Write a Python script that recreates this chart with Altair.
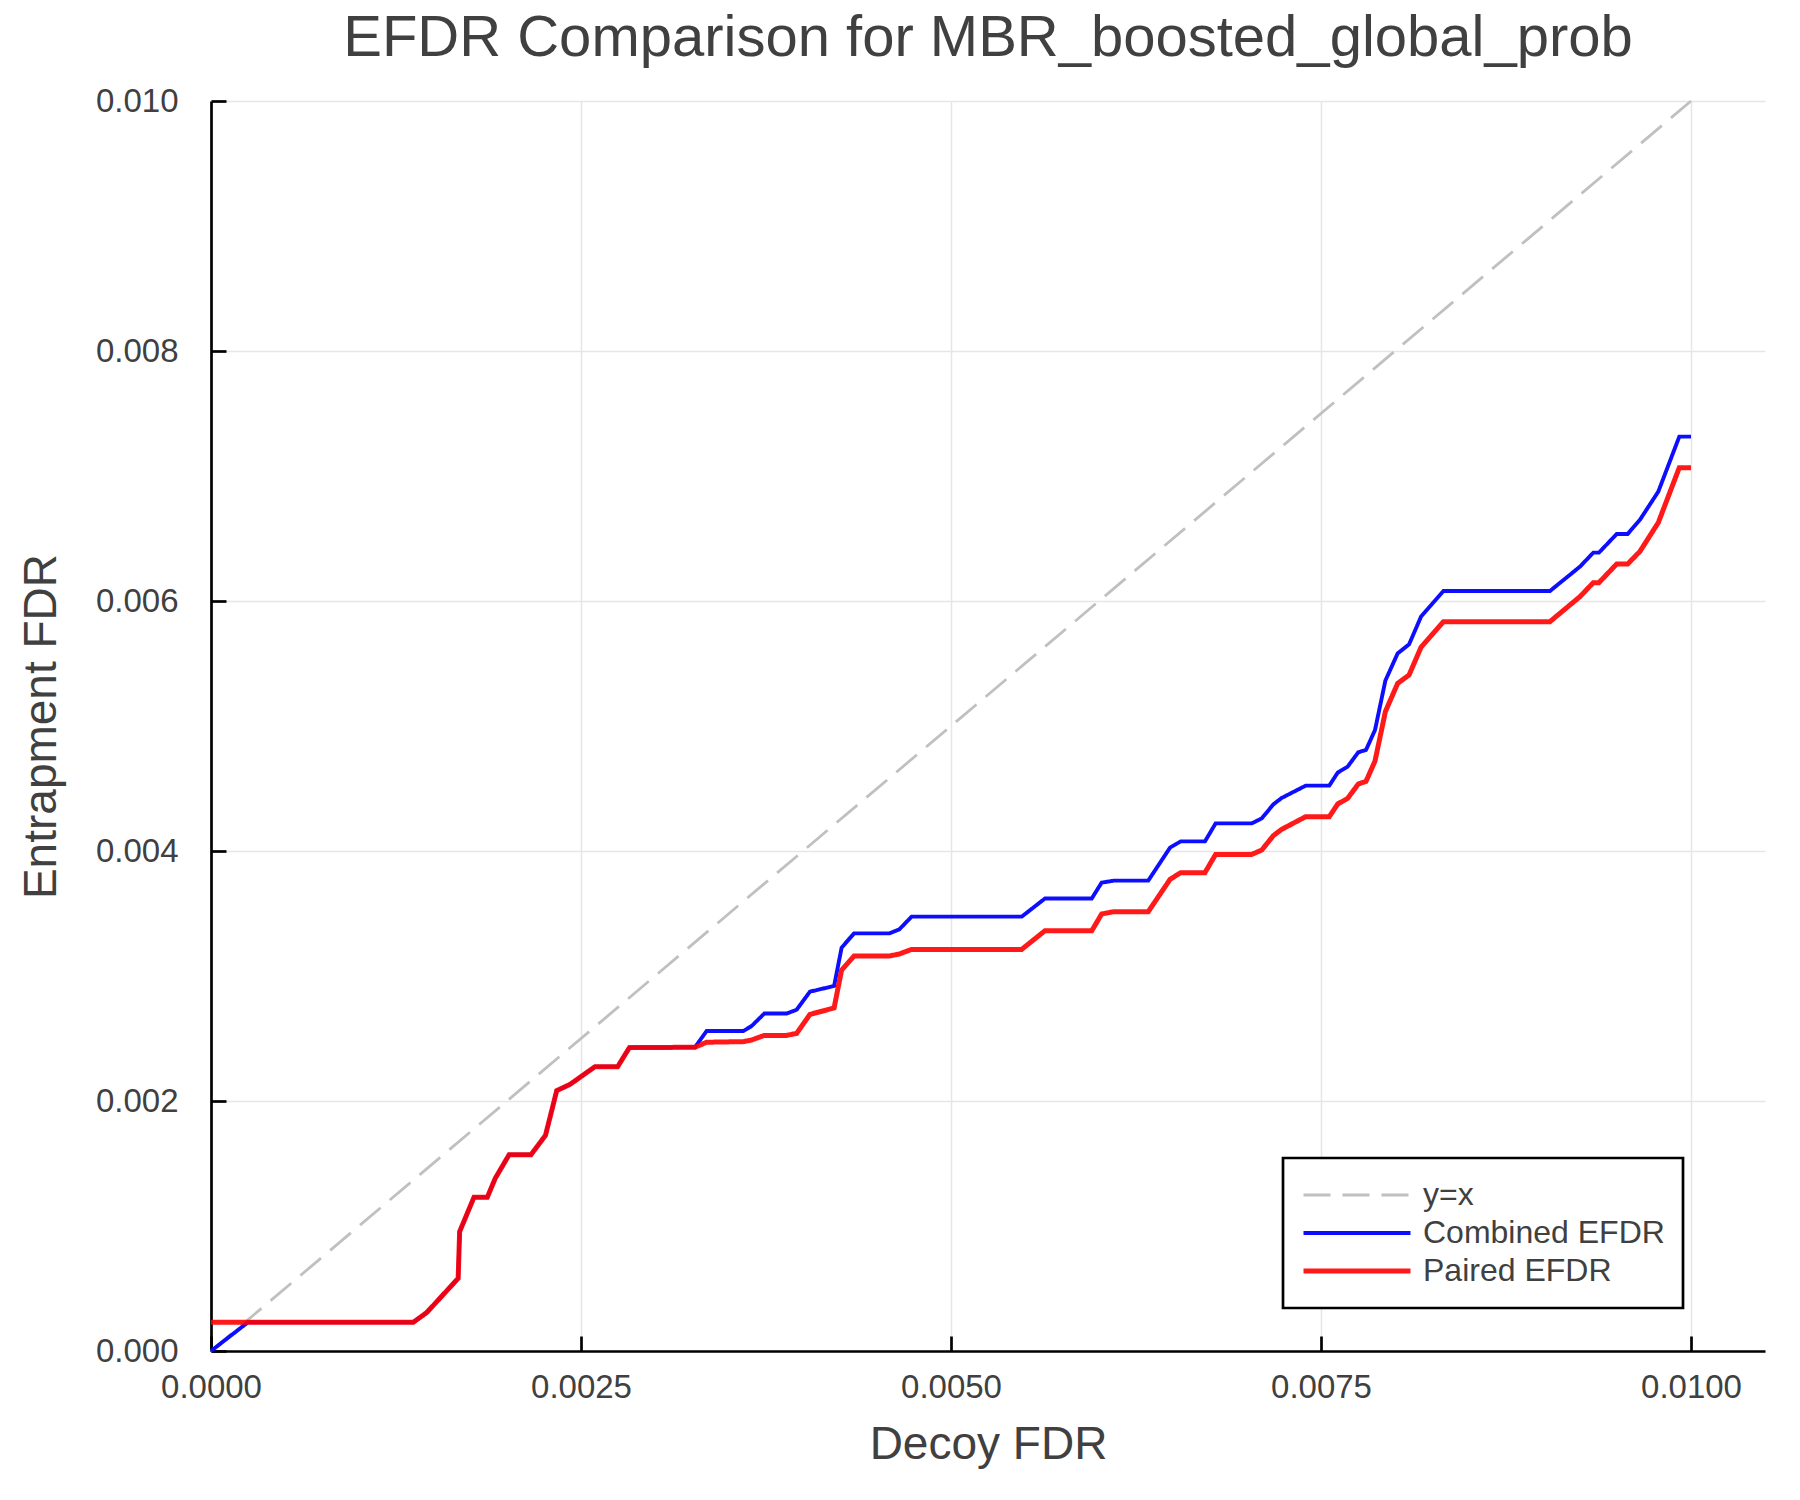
import altair as alt
import pandas as pd

# decoy FDR grid shared by both EFDR curves
decoy_fdr = [
    0.0, 0.00025, 0.001367, 0.001457, 0.00167, 0.00168, 0.001777, 0.001867,
    0.00192, 0.002014, 0.002162, 0.00226, 0.002336, 0.002426, 0.002595, 0.002748,
    0.002827, 0.00327, 0.003349, 0.003597, 0.003653, 0.003739, 0.00389, 0.003957,
    0.004047, 0.00421, 0.004261, 0.004345, 0.004583, 0.004651, 0.004734, 0.005478,
    0.005635, 0.005951, 0.006018, 0.006101, 0.006333, 0.00648, 0.006552, 0.006716,
    0.006788, 0.007032, 0.0071, 0.007178, 0.007234, 0.007397, 0.007556, 0.007613,
    0.00768, 0.007752, 0.007804, 0.007865, 0.007935, 0.008018, 0.008095, 0.008176,
    0.008327, 0.009047, 0.00925, 0.00934, 0.009378, 0.009498, 0.009572, 0.009655,
    0.009779, 0.009921, 0.01,
]
combined_efdr = [
    0.0, 0.00023, 0.00023, 0.000307, 0.000581, 0.000955, 0.00123, 0.00123,
    0.00138, 0.00157, 0.00157, 0.001725, 0.002083, 0.002133, 0.002275, 0.002275,
    0.002427, 0.00243, 0.00256, 0.00256, 0.0026, 0.0027, 0.0027, 0.00273,
    0.002875, 0.00292, 0.003227, 0.003341, 0.003341, 0.003373, 0.003475, 0.003475,
    0.00362, 0.00362, 0.003747, 0.003763, 0.003763, 0.004027, 0.004077, 0.004077,
    0.004221, 0.004221, 0.004261, 0.004373, 0.004424, 0.004523, 0.004523, 0.004627,
    0.004675, 0.00479, 0.004808, 0.004968, 0.005363, 0.005581, 0.005653, 0.005875,
    0.00608, 0.00608, 0.006275, 0.006387, 0.006387, 0.006536, 0.006536, 0.00665,
    0.006875, 0.007315, 0.007315,
]
paired_efdr = [
    0.00023, 0.00023, 0.00023, 0.000307, 0.000581, 0.000955, 0.00123, 0.00123,
    0.00138, 0.00157, 0.00157, 0.001725, 0.002083, 0.002133, 0.002275, 0.002275,
    0.002427, 0.00243, 0.00247, 0.002475, 0.002488, 0.002525, 0.002525, 0.002541,
    0.002693, 0.002744, 0.003048, 0.00316, 0.00316, 0.003176, 0.003213, 0.003213,
    0.003362, 0.003362, 0.003496, 0.003515, 0.003515, 0.003773, 0.003827, 0.003827,
    0.003973, 0.003973, 0.004008, 0.004123, 0.004173, 0.004275, 0.004275, 0.004376,
    0.004421, 0.004536, 0.004557, 0.00472, 0.005115, 0.005341, 0.005408, 0.00563,
    0.005835, 0.005835, 0.006035, 0.006147, 0.006147, 0.006296, 0.006296, 0.006397,
    0.006627, 0.007067, 0.007067,
]
diag_x = [0.0, 0.01]

series_names = ["y=x", "Combined EFDR", "Paired EFDR"]
series_colors = ["#c0c0c0", "#0000ff", "#ff0000"]
series_dash = [[27, 12], [1, 0], [1, 0]]
series_width = [2.8, 5, 5]
series_opacity = [1, 0.9, 0.9]

x_ticks = [0, 0.0025, 0.005, 0.0075, 0.01]
y_ticks = [0, 0.002, 0.004, 0.006, 0.008, 0.01]

diag_df = pd.DataFrame({"decoy": diag_x, "efdr": diag_x, "series": "y=x"})
comb_df = pd.DataFrame({"decoy": decoy_fdr, "efdr": combined_efdr, "series": "Combined EFDR"})
pair_df = pd.DataFrame({"decoy": decoy_fdr, "efdr": paired_efdr, "series": "Paired EFDR"})

text_color = "#404040"
font = "Liberation Sans"

xscale = alt.Scale(domain=[0, 0.0105], nice=False, zero=False)
yscale = alt.Scale(domain=[0, 0.01], nice=False, zero=False)

# trailing blanks widen the legend box a little, like the reference frame
legend = alt.Legend(labelExpr="datum.label + '    '")

style = [
    alt.Color("series:N", scale=alt.Scale(domain=series_names, range=series_colors),
              legend=legend, title=None),
    alt.StrokeDash("series:N", scale=alt.Scale(domain=series_names, range=series_dash),
                   legend=legend, title=None),
    alt.StrokeWidth("series:N", scale=alt.Scale(domain=series_names, range=series_width),
                    legend=legend, title=None),
    alt.Opacity("series:N", scale=alt.Scale(domain=series_names, range=series_opacity),
                legend=legend, title=None),
]

main_x = alt.Axis(values=x_ticks, format=".4f", orient="bottom", ticks=False, grid=True,
                  labelFlush=False, labelPadding=20, titlePadding=18)
main_y = alt.Axis(values=y_ticks, format=".3f", orient="left", ticks=False, grid=True,
                  labelPadding=33, titlePadding=30)
# inward-pointing ticks: a second, tick-only axis pulled into the plot
tick_x = alt.Axis(values=x_ticks, orient="bottom", offset=-15, ticks=True, tickSize=15,
                  tickWidth=2.7, tickColor="black", domain=False, labels=False, grid=False)
tick_y = alt.Axis(values=y_ticks, orient="left", offset=-15, ticks=True, tickSize=15,
                  tickWidth=2.7, tickColor="black", domain=False, labels=False, grid=False)

diag = alt.Chart(diag_df).mark_line().encode(
    alt.X("decoy:Q", scale=xscale, axis=main_x, title="Decoy FDR"),
    alt.Y("efdr:Q", scale=yscale, axis=main_y, title="Entrapment FDR"),
    *style,
)
combined = alt.Chart(comb_df).mark_line().encode(
    alt.X("decoy:Q", scale=xscale, axis=None),
    alt.Y("efdr:Q", scale=yscale, axis=None),
    *style,
)
paired = alt.Chart(pair_df).mark_line().encode(
    alt.X("decoy:Q", scale=xscale, axis=tick_x, title=None),
    alt.Y("efdr:Q", scale=yscale, axis=tick_y, title=None),
    *style,
)

chart = alt.layer(diag, combined, paired).resolve_axis(
    x="independent", y="independent"
).properties(
    width=1554,
    height=1250,
    autosize=alt.AutoSizeParams(type="none"),
    padding={"left": 203, "top": 93, "right": 27, "bottom": 141},
    background="white",
    title=alt.TitleParams(
        "EFDR Comparison for MBR_boosted_global_prob",
        font=font, fontSize=58, fontWeight="normal", color=text_color,
        anchor="middle", frame="group", baseline="alphabetic", offset=-29,
    ),
).configure_view(
    stroke=None
).configure_axis(
    labelFont=font, labelFontSize=33, labelColor=text_color,
    titleFont=font, titleFontSize=46, titleFontWeight="normal", titleColor=text_color,
    domainColor="black", domainWidth=2.7,
    gridColor="#e6e6e6", gridWidth=1.5,
).configure_legend(
    orient="none", legendX=1072, legendY=1057,
    strokeColor="black", strokeWidth=2.7, fillColor="white", padding=18,
    labelFont=font, labelFontSize=32, labelColor=text_color, labelOffset=10,
    labelLimit=500, symbolType="stroke", symbolSize=11449, clipHeight=38, rowPadding=0,
)

chart.save("out.html", embed_options={"renderer": "svg", "actions": False})
